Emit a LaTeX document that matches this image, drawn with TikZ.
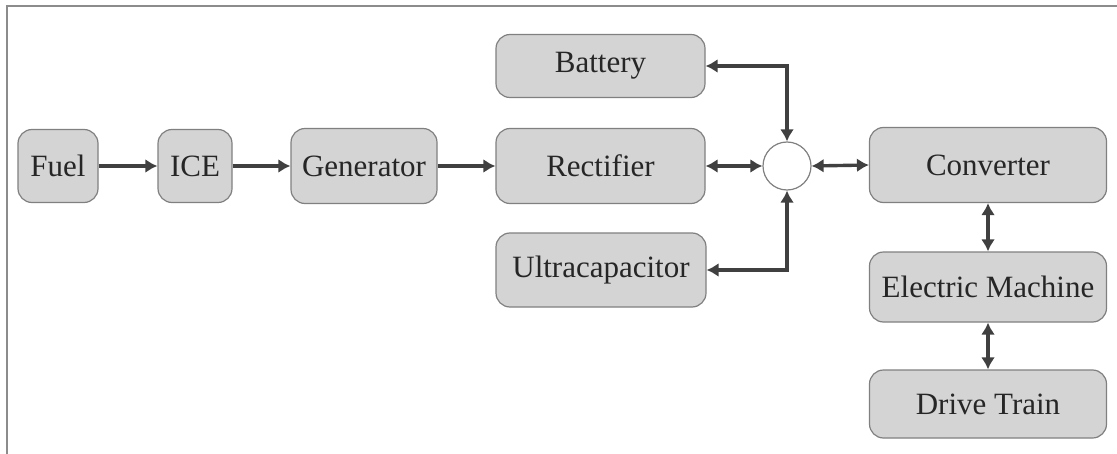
\documentclass[tikz,border=0pt]{standalone}
\usepackage{fontspec}
\setmainfont{Liberation Serif}
\usepackage{tikz}
\usetikzlibrary{arrows.meta,positioning}

\begin{document}
\begin{tikzpicture}[x=0.5pt,y=-0.5pt,>={Latex[length=6pt,width=7pt]},
  blk/.style={draw=black!50,line width=0.6pt,rounded corners=7pt,fill=black!17,align=center,font=\fontsize{15.5}{18}\selectfont,text=black!85,inner sep=2pt},
  lnk/.style={draw=black!75,line width=1.7pt}]
\useasboundingbox (0,0) rectangle (1117,454);
\draw[black!45,line width=1pt] (7,454)--(7,6)--(1117,6);
\node[blk,minimum width=40pt,minimum height=36.5pt] (fuel) at (58,166) {Fuel};
\node[blk,minimum width=37pt,minimum height=36.5pt] (ice) at (195,166) {ICE};
\node[blk,minimum width=73pt,minimum height=37.5pt] (gen) at (364,166) {Generator};
\node[blk,minimum width=104.5pt,minimum height=31.5pt] (bat) at (600.5,66) {Battery};
\node[blk,minimum width=104.5pt,minimum height=37.5pt] (rect) at (600.5,166) {Rectifier};
\node[blk,minimum width=105pt,minimum height=37pt] (ucap) at (601,270) {Ultracapacitor};
\node[draw=black!50,line width=0.6pt,fill=white,circle,minimum size=24pt,inner sep=0pt] (hub) at (787,166) {};
\node[blk,minimum width=118.5pt,minimum height=37.5pt] (conv) at (988,165) {Converter};
\node[blk,minimum width=118.5pt,minimum height=35pt] (em) at (988,287) {Electric Machine};
\node[blk,minimum width=118.5pt,minimum height=34pt] (dt) at (988,404) {Drive Train};
% power path
\draw[lnk,->] (fuel.east)--(ice.west);
\draw[lnk,->] (ice.east)--(gen.west);
\draw[lnk,->] (gen.east)--(rect.west);
\draw[lnk,<->] (rect.east)--(hub.west);
\draw[lnk,<->] (hub.east)--(conv.west);
% storage
\draw[lnk,<->] (bat.east)-|(hub.north);
\draw[lnk,<->] (ucap.east)-|(hub.south);
% drive side
\draw[lnk,<->] (conv.south)--(em.north);
\draw[lnk,<->] (em.south)--(dt.north);
\end{tikzpicture}
\end{document}
